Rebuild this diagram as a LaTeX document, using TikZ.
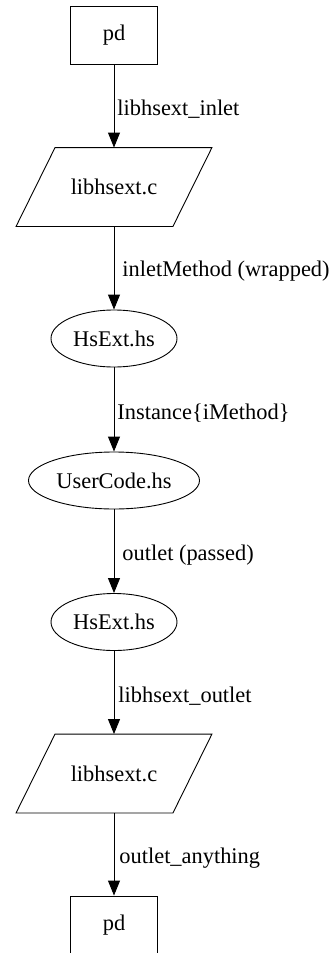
\documentclass[tikz,border=0pt]{standalone}
\usepackage{fontspec}
\setmainfont{Liberation Serif}
\usetikzlibrary{shapes.geometric,arrows.meta}

\begin{document}
\begin{tikzpicture}[x=1pt,y=-1pt,line width=0.9pt,
    every node/.style={font=\fontsize{22.4}{26}\selectfont},
    pdbox/.style={draw, minimum width=87pt, minimum height=58pt, inner sep=0},
    cfile/.style={minimum width=156pt, minimum height=78pt, inner sep=0},
    hsfile/.style={draw, ellipse, minimum height=57pt, inner sep=0},
    flow/.style={-{Triangle[length=15pt,width=12pt]}},
    lbl/.style={anchor=west, inner sep=0, xshift=3pt, yshift=-3.5pt}]
    \useasboundingbox (0,0) rectangle (334,953);

    % 节点
    \node[pdbox] (pdin) at (114,35) {pd};
    \node[cfile] (libin) at (114,187) {libhsext.c};
    \node[hsfile, minimum width=126pt] (hsin) at (114,338.5) {HsExt.hs};
    \node[hsfile, minimum width=171pt] (user) at (114,480.5) {UserCode.hs};
    \node[hsfile, minimum width=126pt] (hsout) at (114,622) {HsExt.hs};
    \node[cfile] (libout) at (114,773.5) {libhsext.c};
    \node[pdbox] (pdout) at (114,925) {pd};

    % 平行四边形外框
    \foreach \n in {libin,libout}
        \draw ([xshift=-19.5pt]\n.south west) -- ([xshift=-19.5pt]\n.south east)
            -- ([xshift=19.5pt]\n.north east) -- ([xshift=19.5pt]\n.north west) -- cycle;

    % 边和标签
    \draw[flow] (pdin) -- node[lbl] {libhsext\_inlet} (libin);
    \draw[flow] (libin) -- node[lbl, xshift=5pt] {inletMethod (wrapped)} (hsin);
    \draw[flow] (hsin) -- node[lbl] {Instance\{iMethod\}} (user);
    \draw[flow] (user) -- node[lbl, xshift=5pt] {outlet (passed)} (hsout);
    \draw[flow] (hsout) -- node[lbl, xshift=1pt] {libhsext\_outlet} (libout);
    \draw[flow] (libout) -- node[lbl, xshift=2pt] {outlet\_anything} (pdout);
\end{tikzpicture}
\end{document}
